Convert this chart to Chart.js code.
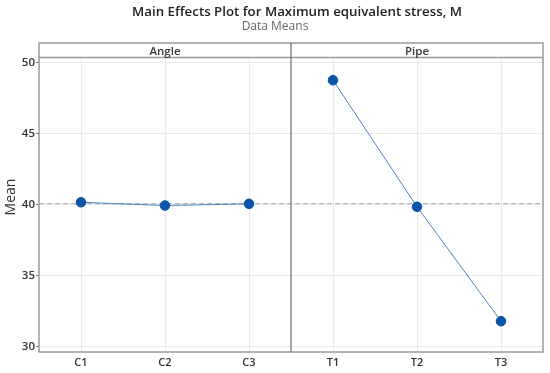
<!DOCTYPE html>
<html>
<head>
<meta charset="utf-8">
<script src="https://cdn.jsdelivr.net/npm/chart.js@4.4.1/dist/chart.umd.min.js"></script>
<style>
    html, body { margin: 0; padding: 0; background: #fff; }
    #wrap { width: 550px; height: 373px; }
</style>
</head>
<body>
<div id="wrap"><canvas id="myChart"></canvas></div>
<script>
// data
const angleLevels = ['C1', 'C2', 'C3']
const angleMeans = [40.18, 39.95, 40.07]
const pipeLevels = ['T1', 'T2', 'T3']
const pipeMeans = [48.78, 39.86, 31.8]
const grandMean = 40.08
const yTicks = [30, 35, 40, 45, 50]
const panelNames = ['Angle', 'Pipe']

const allLevels = angleLevels.concat(pipeLevels)
const font = "'Open Sans', 'Noto Sans', sans-serif"

const lineColor = '#4a84c8'
const dotColor = '#0b54a6'

// the facet strip, frame, reference line and titles are drawn by hand
const minitabBits = {
    id: 'minitabBits',
    beforeDatasetsDraw(chart) {
        const { ctx, chartArea, scales } = chart
        const y = scales.y.getPixelForValue(grandMean)
        ctx.save()
        ctx.strokeStyle = '#a6a6a6'
        ctx.lineWidth = 1
        ctx.setLineDash([5, 3])
        ctx.beginPath()
        ctx.moveTo(chartArea.left, y)
        ctx.lineTo(chartArea.right, y)
        ctx.stroke()
        ctx.restore()
    },
    afterDraw(chart) {
        const { ctx, chartArea, scales } = chart
        const stripTop = 43
        const left = chartArea.left, right = chartArea.right, bottom = chartArea.bottom
        const split = scales.x.getPixelForValue(angleLevels.length + 0.5)

        ctx.save()
        // outer frame
        ctx.strokeStyle = '#9a9a9a'
        ctx.lineWidth = 1.5
        ctx.strokeRect(left, stripTop, right - left, bottom - stripTop)
        // strip bottom
        ctx.beginPath()
        ctx.moveTo(left, chartArea.top)
        ctx.lineTo(right, chartArea.top)
        ctx.stroke()
        // panel divider
        ctx.strokeStyle = '#6e6e6e'
        ctx.lineWidth = 1.2
        ctx.beginPath()
        ctx.moveTo(split, stripTop)
        ctx.lineTo(split, bottom)
        ctx.stroke()

        // strip labels
        ctx.fillStyle = '#383838'
        ctx.font = "600 11.5px " + font
        ctx.textAlign = 'center'
        ctx.textBaseline = 'middle'
        ctx.fillText(panelNames[0], (left + split) / 2, 51.5)
        ctx.fillText(panelNames[1], (split + right) / 2, 51.5)

        // titles
        ctx.fillStyle = '#222'
        ctx.font = "600 13.3px " + font
        ctx.textBaseline = 'alphabetic'
        ctx.fillText('Main Effects Plot for Maximum equivalent stress, M', 297, 16)
        ctx.fillStyle = '#666'
        ctx.font = "12px " + font
        ctx.fillText('Data Means', 275, 29.5)

        // y axis title
        ctx.fillStyle = '#333'
        ctx.font = "14px " + font
        ctx.translate(11, 197)
        ctx.rotate(-Math.PI / 2)
        ctx.textBaseline = 'middle'
        ctx.fillText('Mean', 0, 0)
        ctx.restore()
    }
}

const ctx = document.getElementById('myChart').getContext('2d')
const myChart = new Chart(ctx, {
    type: 'line',
    data: {
        datasets: [
            {
                label: panelNames[0],
                data: angleMeans.map((v, i) => ({ x: i + 1, y: v })),
                borderColor: lineColor,
                borderWidth: 1,
                pointRadius: 4.8,
                pointBackgroundColor: dotColor,
                pointBorderColor: dotColor,
                tension: 0
            },
            {
                label: panelNames[1],
                data: pipeMeans.map((v, i) => ({ x: i + 1 + angleLevels.length, y: v })),
                borderColor: lineColor,
                borderWidth: 1,
                pointRadius: 4.8,
                pointBackgroundColor: dotColor,
                pointBorderColor: dotColor,
                tension: 0
            }
        ]
    },
    plugins: [minitabBits],
    options: {
        responsive: true,
        maintainAspectRatio: false,
        animation: false,
        layout: {
            padding: { top: 57.5, right: 7, bottom: 0, left: 0 }
        },
        plugins: {
            legend: { display: false },
            tooltip: { enabled: false },
            title: { display: false }
        },
        scales: {
            x: {
                type: 'linear',
                min: 0.5,
                max: allLevels.length + 0.5,
                afterBuildTicks: (scale) => {
                    scale.ticks = allLevels.map((l, i) => ({ value: i + 1 }))
                },
                afterFit: (scale) => { scale.height = 21 },
                border: { display: false },
                grid: { color: '#e9e9e9', drawTicks: false },
                ticks: {
                    padding: 4,
                    color: '#333',
                    font: { family: font, size: 11, weight: '600' },
                    callback: (v) => allLevels[v - 1]
                }
            },
            y: {
                min: 29.63,
                max: 50.38,
                afterBuildTicks: (scale) => {
                    scale.ticks = yTicks.map(v => ({ value: v }))
                },
                afterFit: (scale) => { scale.width = 39 },
                border: { display: false },
                grid: { color: '#e9e9e9', tickColor: '#777', tickLength: 3 },
                ticks: {
                    padding: 1,
                    color: '#333',
                    font: { family: font, size: 11.5, weight: '600' }
                }
            }
        }
    }
})
</script>
</body>
</html>
